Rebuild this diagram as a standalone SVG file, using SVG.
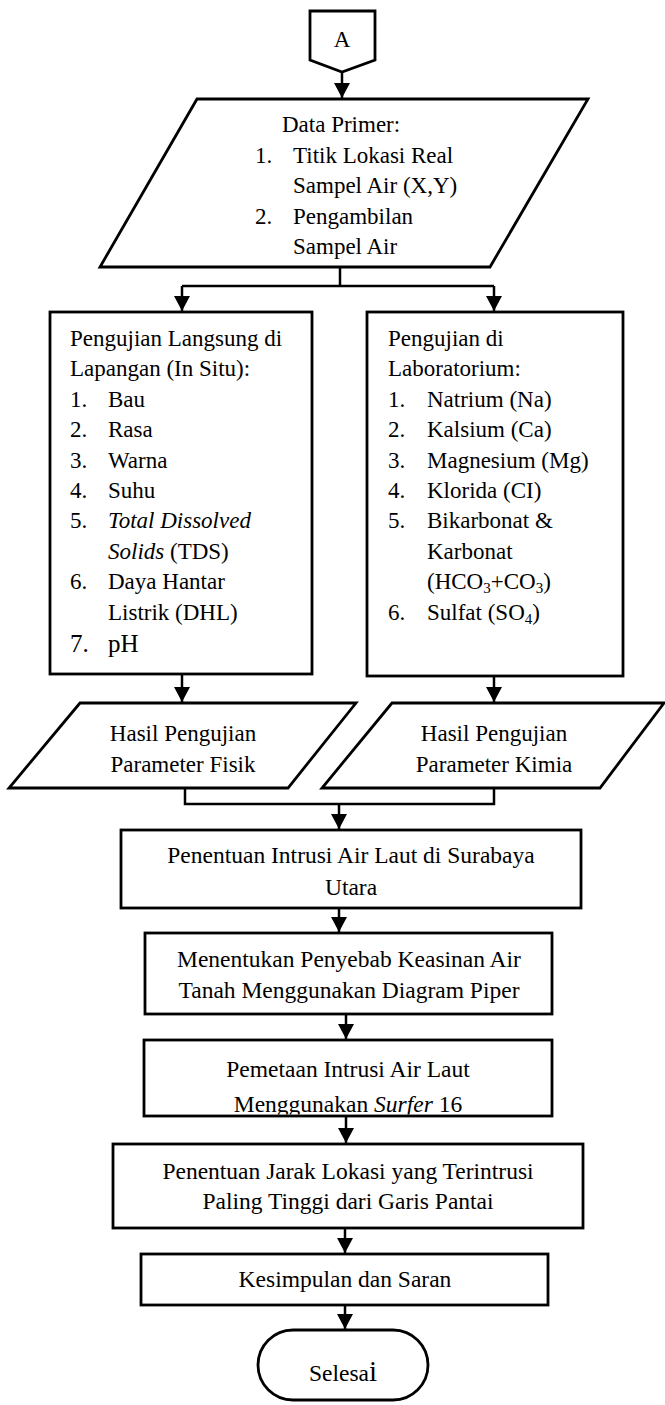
<svg xmlns="http://www.w3.org/2000/svg" width="665" height="1405" viewBox="0 0 665 1405">
<style>
.t{font-family:"Liberation Serif","Times New Roman",serif;font-size:23px;fill:#000}
.b{font-size:23.5px}
.m{text-anchor:middle}
.i{font-style:italic}
.s{fill:#fff;stroke:#000;stroke-width:2.8}
.c{fill:none;stroke:#000;stroke-width:2.5}
</style>
<defs>
<marker id="ah" markerUnits="userSpaceOnUse" markerWidth="16" markerHeight="16" refX="15" refY="8" orient="auto"><path d="M0,0 L15,8 L0,16 Z" fill="#000"/></marker>
<clipPath id="clip3"><rect x="144" y="1040" width="408" height="74.5"/></clipPath>
</defs>
<rect width="665" height="1405" fill="#fff"/>
<g id="connectors">
<path class="c" d="M342,72 V98" marker-end="url(#ah)"/>
<path class="c" d="M340,267 V286 M182,286 H494"/>
<path class="c" d="M182,286 V311" marker-end="url(#ah)"/>
<path class="c" d="M494,286 V311" marker-end="url(#ah)"/>
<path class="c" d="M182,674 V702" marker-end="url(#ah)"/>
<path class="c" d="M494,676 V702" marker-end="url(#ah)"/>
<path class="c" d="M185,788 V804 H494 V788"/>
<path class="c" d="M339,804 V829" marker-end="url(#ah)"/>
<path class="c" d="M339,908 V932" marker-end="url(#ah)"/>
<path class="c" d="M346,1014 V1039" marker-end="url(#ah)"/>
<path class="c" d="M346,1116 V1143" marker-end="url(#ah)"/>
<path class="c" d="M345,1228 V1253" marker-end="url(#ah)"/>
<path class="c" d="M345,1305 V1329" marker-end="url(#ah)"/>
</g>
<g id="connA">
<path class="s" d="M310,11 H375 V60 L342,72 L310,60 Z"/>
<text class="t m" x="342" y="47">A</text>
</g>
<g id="dataPrimer">
<path class="s" d="M197,99 H588 L490,267 H100 Z"/>
<text class="t" x="282" y="132">Data Primer:</text>
<text class="t" x="255" y="163">1.</text><text class="t" x="293" y="163">Titik Lokasi Real</text>
<text class="t" x="293" y="193">Sampel Air (X,Y)</text>
<text class="t" x="255" y="224">2.</text><text class="t" x="293" y="224">Pengambilan</text>
<text class="t" x="293" y="254">Sampel Air</text>
</g>
<g id="insitu">
<rect class="s" x="50" y="312" width="262" height="362"/>
<text class="t" x="70" y="346">Pengujian Langsung di</text>
<text class="t" x="70" y="376">Lapangan (In Situ):</text>
<text class="t" x="70" y="407">1.</text><text class="t" x="108" y="407">Bau</text>
<text class="t" x="70" y="437">2.</text><text class="t" x="108" y="437">Rasa</text>
<text class="t" x="70" y="468">3.</text><text class="t" x="108" y="468">Warna</text>
<text class="t" x="70" y="498">4.</text><text class="t" x="108" y="498">Suhu</text>
<text class="t" x="70" y="528">5.</text><text class="t i" x="108" y="528">Total Dissolved</text>
<text class="t" x="108" y="559"><tspan class="i">Solids</tspan> (TDS)</text>
<text class="t" x="70" y="589">6.</text><text class="t" x="108" y="589">Daya Hantar</text>
<text class="t" x="108" y="620">Listrik (DHL)</text>
<text class="t" x="70" y="652" style="font-size:25px">7.</text><text class="t" x="108" y="652" style="font-size:25px">pH</text>
</g>
<g id="lab">
<rect class="s" x="367" y="312" width="256" height="364"/>
<text class="t" x="388" y="346">Pengujian di</text>
<text class="t" x="388" y="376">Laboratorium:</text>
<text class="t" x="388" y="407">1.</text><text class="t" x="427" y="407">Natrium (Na)</text>
<text class="t" x="388" y="437">2.</text><text class="t" x="427" y="437">Kalsium (Ca)</text>
<text class="t" x="388" y="468">3.</text><text class="t" x="427" y="468">Magnesium (Mg)</text>
<text class="t" x="388" y="498">4.</text><text class="t" x="427" y="498">Klorida (CI)</text>
<text class="t" x="388" y="528">5.</text><text class="t" x="427" y="528">Bikarbonat &amp;</text>
<text class="t" x="427" y="559">Karbonat</text>
<text class="t" x="427" y="589">(HCO<tspan style="font-size:15px" dy="4">3</tspan><tspan dy="-4">+CO</tspan><tspan style="font-size:15px" dy="4">3</tspan><tspan dy="-4">)</tspan></text>
<text class="t" x="388" y="620">6.</text><text class="t" x="427" y="620">Sulfat (SO<tspan style="font-size:15px" dy="4">4</tspan><tspan dy="-4">)</tspan></text>
</g>
<g id="hasilFisik">
<path class="s" d="M80,703 H356 L288,788 H9 Z"/>
<text class="t m" x="183" y="741">Hasil Pengujian</text>
<text class="t m" x="183" y="772">Parameter Fisik</text>
</g>
<g id="hasilKimia">
<path class="s" d="M392,703 H664 L600,788 H322 Z"/>
<text class="t m" x="494" y="741">Hasil Pengujian</text>
<text class="t m" x="494" y="772">Parameter Kimia</text>
</g>
<g id="penentuan">
<rect class="s" x="121" y="830" width="460" height="78"/>
<text class="t b m" x="351" y="863">Penentuan Intrusi Air Laut di Surabaya</text>
<text class="t b m" x="351" y="895">Utara</text>
</g>
<g id="penyebab">
<rect class="s" x="145" y="933" width="407" height="81"/>
<text class="t b m" x="349" y="967">Menentukan Penyebab Keasinan Air</text>
<text class="t b m" x="349" y="998">Tanah Menggunakan Diagram Piper</text>
</g>
<g id="pemetaan">
<rect class="s" x="144" y="1040" width="408" height="76"/>
<text class="t b m" x="348" y="1077">Pemetaan Intrusi Air Laut</text>
<text class="t b m" x="348" y="1112" clip-path="url(#clip3)">Menggunakan <tspan class="i">Surfer</tspan> 16</text>
</g>
<g id="jarak">
<rect class="s" x="113" y="1144" width="470" height="84"/>
<text class="t b m" x="348" y="1179">Penentuan Jarak Lokasi yang Terintrusi</text>
<text class="t b m" x="348" y="1209">Paling Tinggi dari Garis Pantai</text>
</g>
<g id="kesimpulan">
<rect class="s" x="141" y="1254" width="407" height="51"/>
<text class="t b m" x="345" y="1287">Kesimpulan dan Saran</text>
</g>
<g id="selesai">
<rect class="s" x="258" y="1330" width="170" height="70" rx="35" ry="35"/>
<text class="t b m" x="343" y="1381">Selesa<tspan style="font-size:29px">i</tspan></text>
</g>
</svg>
